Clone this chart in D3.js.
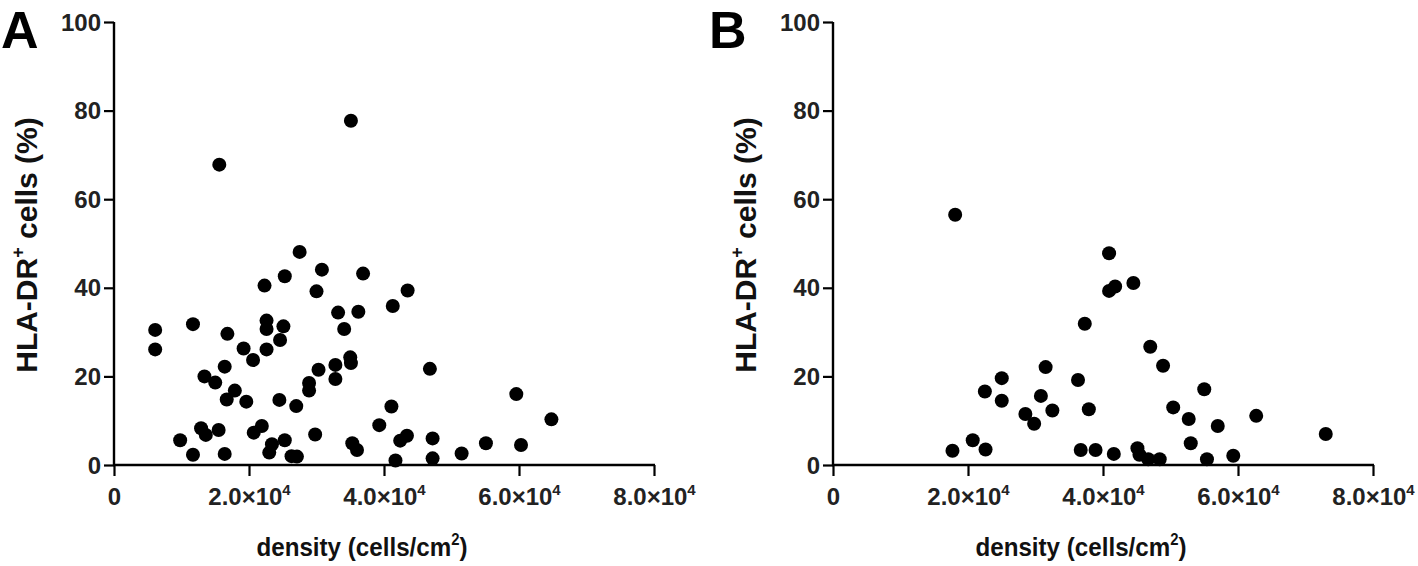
<!DOCTYPE html>
<html><head><meta charset="utf-8">
<script src="https://cdn.jsdelivr.net/npm/d3@7"></script>
<style>body{margin:0;background:#fff}svg{display:block}</style>
</head><body><svg id="c" width="1418" height="566"></svg>
<script>
// Panel A: density (×10^4 cells/cm²) and HLA-DR+ cells (%)
const aDensity = [0.61,0.61,1.17,1.68,1.92,2.06,2.23,2.53,2.26,2.26,2.51,2.46,2.26,3.00,3.08,3.69,3.32,3.62,3.41,4.13,4.35,
  1.64,1.34,1.50,1.79,1.67,1.96,2.45,2.70,2.89,2.89,3.03,3.28,3.28,3.50,3.51,4.11,3.93,4.24,4.34,4.17,
  0.98,1.29,1.36,1.55,1.17,1.64,2.07,2.19,2.34,2.30,2.53,2.63,2.71,2.98,3.53,3.60,4.68,4.72,4.72,5.15,5.51,6.03,5.96,6.48,
  1.56,3.51,2.75];
const aHLA = [30.5,26.1,31.8,29.6,26.3,23.7,40.5,42.6,32.6,30.7,31.3,28.2,26.1,39.2,44.1,43.2,34.4,34.6,30.7,35.9,39.4,
  22.2,20.0,18.6,16.8,14.8,14.3,14.7,13.3,18.5,16.8,21.5,22.6,19.4,24.3,23.0,13.2,9.0,5.5,6.6,1.0,
  5.6,8.3,6.8,7.9,2.3,2.5,7.3,8.8,4.7,2.8,5.6,2.0,1.9,6.9,4.9,3.4,21.7,6.0,1.5,2.6,4.9,4.5,16.0,10.3,
  67.8,77.7,48.1];
// Panel B
const bDensity = [1.81,4.09,4.09,4.18,4.45,3.73,3.15,2.50,2.25,2.50,3.08,3.25,2.85,2.98,3.63,3.79,2.07,1.77,2.26,3.67,3.89,4.16,
  4.70,4.89,5.50,5.04,5.27,5.70,6.27,7.30,5.30,4.51,4.54,4.67,4.84,5.54,5.93];
const bHLA = [56.5,47.8,39.3,40.3,41.1,31.9,22.1,19.6,16.6,14.5,15.6,12.3,11.5,9.3,19.2,12.6,5.6,3.2,3.5,3.4,3.4,2.5,
  26.7,22.4,17.1,13.0,10.4,8.8,11.1,7.0,4.9,3.8,2.3,1.3,1.3,1.3,2.1];

const yTicks = [0,20,40,60,80,100];
const xTicks = [0,2,4,6,8];
const xTickMantissa = ["0","2.0","4.0","6.0","8.0"];
const xTickExponent = "4";
const panelLetters = ["A","B"];
const yTitle = "HLA-DR";
const xTitle = "density (cells/cm";

const svg = d3.select("#c");
const FONT = "'Liberation Sans', Arial, Helvetica, sans-serif";

function panel(originX, xs, ys, letter, letterX) {
  const x = d3.scaleLinear().domain([0,8]).range([originX, originX+540]);
  const y = d3.scaleLinear().domain([0,100]).range([465, 22]);
  const g = svg.append("g");

  const ya = g.append("g").attr("transform", `translate(${originX},0)`)
    .call(d3.axisLeft(y).tickValues(yTicks).tickSize(10).tickPadding(3).tickFormat(d3.format("d")));
  const xa = g.append("g").attr("transform", `translate(0,465)`)
    .call(d3.axisBottom(x).tickValues(xTicks).tickSize(11).tickPadding(6).tickFormat(""));
  [ya, xa].forEach(a => {
    a.select(".domain").attr("stroke","#000").attr("stroke-width",2.4);
    a.selectAll(".tick line").attr("stroke","#000").attr("stroke-width",2.2);
  });
  ya.select(".domain").attr("d", `M0,${y(100)}V${y(0)+1}`);
  xa.select(".domain").attr("d", `M${x(0)-1},0H${x(8)+1}`);

  ya.selectAll(".tick text").attr("font-family", FONT).attr("font-size", 24).attr("fill","#222")
    .attr("font-weight","bold").attr("dy","0.34em");

  xa.selectAll(".tick").each(function(d, i) {
    const t = d3.select(this).append("text")
      .attr("y", 40).attr("text-anchor","middle")
      .attr("font-family", FONT).attr("font-size", 24).attr("fill","#222")
      .attr("font-weight","bold");
    if (i === 0) { t.text(xTickMantissa[i]); }
    else {
      t.append("tspan").text(xTickMantissa[i] + "×10");
      t.append("tspan").attr("font-size", 15).attr("dy", -10).text(xTickExponent);
    }
  });

  g.append("g").selectAll("circle").data(xs.map((v,i)=>[v, ys[i]])).join("circle")
    .attr("cx", d => x(d[0])).attr("cy", d => y(d[1])).attr("r", 7).attr("fill", "#000");

  const xt = g.append("text").attr("transform", `translate(${originX + 248},556) scale(0.93,1)`)
    .attr("text-anchor","middle")
    .attr("font-family", FONT).attr("font-size", 26).attr("font-weight","bold").attr("fill","#111");
  xt.append("tspan").text(xTitle);
  xt.append("tspan").attr("font-size", 16).attr("dy", -11).text("2");
  xt.append("tspan").attr("dy", 11).text(")");

  const yt = g.append("text").attr("transform", `translate(${originX-77},245) rotate(-90)`)
    .attr("text-anchor","middle")
    .attr("font-family", FONT).attr("font-size", 30).attr("font-weight","bold").attr("fill","#111");
  yt.append("tspan").text(yTitle);
  yt.append("tspan").attr("font-size", 18).attr("dy", -13).text("+");
  yt.append("tspan").attr("dy", 13).text(" cells (%)");

  g.append("text").attr("x", letterX).attr("y", 48)
    .attr("font-family", FONT).attr("font-size", 52).attr("font-weight","bold").attr("fill","#000")
    .text(letter);
}

panel(114, aDensity, aHLA, panelLetters[0], 1);
panel(833, bDensity, bHLA, panelLetters[1], 709);
</script>
</body></html>
